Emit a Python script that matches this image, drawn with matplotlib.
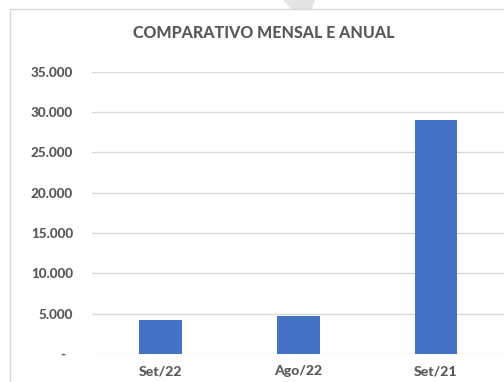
import matplotlib
matplotlib.use("Agg")
import matplotlib.pyplot as plt
from matplotlib.ticker import FuncFormatter, MultipleLocator
from matplotlib.patches import Polygon, Rectangle

categories = ["Set/22", "Ago/22", "Set/21"]
values = [4200, 4750, 29000]
title = "COMPARATIVO MENSAL E ANUAL"

W, H = 504, 382
fig = plt.figure(figsize=(W / 100, H / 100), dpi=100)
fig.patch.set_facecolor("white")

font = ["Lato", "DejaVu Sans"]
text_color = "#595959"

# Light watermark wedge at the top edge
fig.patches.append(Polygon([(283 / W, 1.0), (315 / W, 1.0), (312 / W, 1 - 9 / H), (291 / W, 1 - 9 / H)],
                           closed=True, transform=fig.transFigure, facecolor="#e4e4e4",
                           edgecolor="none", zorder=0))
# Chart frame
fig.patches.append(Rectangle((10 / W, -0.1), 1.2, 1.1 - 9 / H, transform=fig.transFigure,
                             facecolor="white", edgecolor="#d9d9d9", linewidth=1.0, zorder=1))

ax = fig.add_axes([91.7 / W, 28 / H, (504.8 - 91.7) / W, (354 - 71.7) / H])
ax.set_zorder(2)
ax.patch.set_visible(False)

x = range(len(categories))
ax.bar(x, values, width=0.31, color="#4472C4", zorder=3)

ax.set_xlim(-0.5, 2.5)
ax.set_ylim(0, 35000)
ax.yaxis.set_major_locator(MultipleLocator(5000))


def fmt(v, pos):
    if v == 0:
        return "-  "
    return f"{int(v):,}".replace(",", ".")


ax.yaxis.set_major_formatter(FuncFormatter(fmt))
ax.grid(axis="y", color="#d9d9d9", linewidth=1.0, zorder=0)
ax.set_axisbelow(True)
for s in ax.spines.values():
    s.set_visible(False)
ax.set_xticks(list(x))
ax.set_xticklabels(categories)
ax.tick_params(axis="both", length=0)
ax.tick_params(axis="y", pad=13.5, labelsize=9.7)
ax.tick_params(axis="x", pad=8, labelsize=10.2)
for lab in ax.get_xticklabels() + ax.get_yticklabels():
    lab.set_fontfamily(font)
    lab.set_fontweight("black")
    lab.set_color(text_color)

fig.text(264 / W, 1 - 33 / H, title, ha="center", va="center", fontsize=11.5,
         fontweight="black", color=text_color, family=font)

fig.savefig("out.png", dpi=100)
